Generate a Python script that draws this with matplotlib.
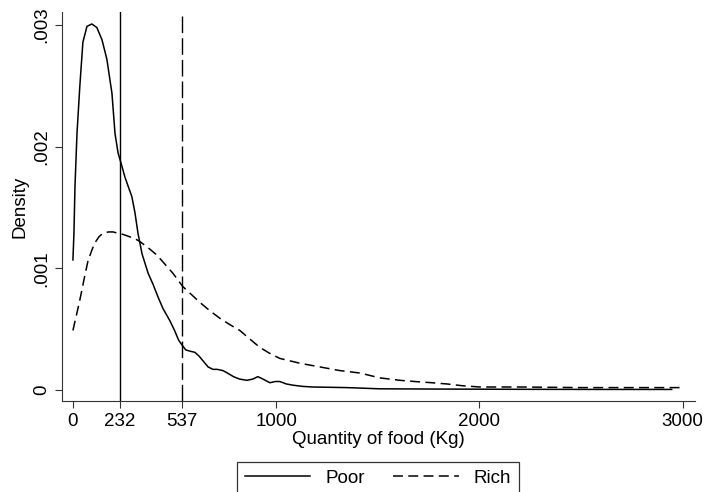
import matplotlib
matplotlib.use("Agg")
import matplotlib.pyplot as plt

plt.rcParams['font.family'] = ['Liberation Sans', 'DejaVu Sans']

# kernel density of food quantity (density in 1e-3)
poor_x = [0, 5, 10, 20, 34, 49, 69, 93, 118, 143, 167, 192, 207, 222, 236, 256, 275, 290,
          305, 320, 340, 370, 394, 420, 443, 460, 477, 500, 520, 537, 555, 575, 600, 620,
          645, 665, 689, 710, 738, 760, 790, 820, 856, 885, 910, 935, 969, 995, 1018, 1050,
          1082, 1130, 1180, 1348, 1510, 1800, 2200, 2600, 2946]
poor_d = [1.07, 1.29, 1.67, 2.11, 2.50, 2.86, 2.99, 3.01, 2.98, 2.88, 2.72, 2.44, 2.11, 1.95,
          1.87, 1.75, 1.66, 1.59, 1.46, 1.29, 1.12, 0.96, 0.87, 0.76, 0.67, 0.62, 0.57, 0.49,
          0.41, 0.37, 0.33, 0.32, 0.31, 0.28, 0.23, 0.19, 0.17, 0.17, 0.16, 0.14, 0.11, 0.09,
          0.08, 0.09, 0.11, 0.09, 0.06, 0.07, 0.07, 0.05, 0.04, 0.03, 0.025, 0.02, 0.01,
          0.008, 0.006, 0.005, 0.005]

rich_x = [0, 15, 30, 44, 57, 74, 93, 108, 128, 148, 175, 197, 220, 246, 280, 310, 330, 370,
          413, 450, 492, 541, 580, 625, 675, 723, 770, 821, 870, 920, 970, 1018, 1117, 1215,
          1313, 1412, 1510, 1608, 1682, 1766, 1840, 1918, 2002, 2200, 2500, 2800, 2985]
rich_d = [0.49, 0.60, 0.71, 0.82, 0.93, 1.06, 1.15, 1.21, 1.26, 1.29, 1.30, 1.30, 1.29, 1.28,
          1.26, 1.24, 1.22, 1.17, 1.11, 1.04, 0.96, 0.85, 0.79, 0.72, 0.65, 0.59, 0.54, 0.49,
          0.42, 0.35, 0.30, 0.26, 0.22, 0.19, 0.16, 0.14, 0.10, 0.08, 0.07, 0.06, 0.05, 0.035,
          0.025, 0.025, 0.02, 0.02, 0.02]

poor_median = 232
rich_median = 537

xticks = [0, 232, 537, 1000, 2000, 3000]
yticks = [0, 0.001, 0.002, 0.003]
ytick_labels = ['0', '.001', '.002', '.003']

fig = plt.figure(figsize=(7.04, 4.92), dpi=100)
ax = fig.add_axes([0.088, 0.185, 0.899, 0.791])

ax.plot(poor_x, [d / 1000 for d in poor_d], color='black', lw=1.1, label='Poor')
ax.plot(rich_x, [d / 1000 for d in rich_d], color='black', lw=1.1,
        dashes=(6.5, 3.5), label='Rich')
ax.axvline(poor_median, color='black', lw=1.0)
ax.axvline(rich_median, color='black', lw=1.0, dashes=(12, 3.6))

ax.set_xlim(-54, 3060)
ax.set_ylim(-0.00009, 0.00311)
ax.set_xticks(xticks)
ax.set_xticklabels([str(t) for t in xticks])
ax.set_yticks(yticks)
ax.set_yticklabels(ytick_labels, rotation=90, va='center')

for s in ['top', 'right']:
    ax.spines[s].set_visible(False)
for s in ['left', 'bottom']:
    ax.spines[s].set_color('#333333')
ax.tick_params(direction='out', length=5, color='#333333', labelsize=13.5)

ax.set_xlabel('Quantity of food (Kg)', fontsize=13.5, labelpad=1)
ax.set_ylabel('Density', fontsize=13.5, labelpad=3)

leg = fig.legend(loc='upper center', bbox_to_anchor=(378 / 704, 1 - 462 / 492), ncol=2,
                 frameon=True, fancybox=False, fontsize=13.5, handlelength=3.5,
                 handletextpad=0.8, columnspacing=1.5, borderpad=0.4,
                 borderaxespad=0, edgecolor='black')
leg.get_frame().set_linewidth(0.9)

fig.savefig('out.png', dpi=100)
